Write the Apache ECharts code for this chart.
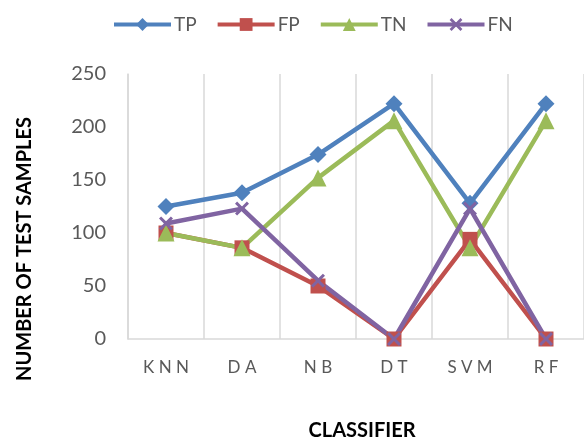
<!DOCTYPE html>
<html>
<head>
<meta charset="utf-8">
<script src="https://cdn.jsdelivr.net/npm/echarts@6/dist/echarts.min.js"></script>
<style>html,body{margin:0;padding:0;background:#fff}#c{width:584px;height:439px}</style>
</head>
<body>
<div id="c"></div>
<script>
var categories = ['KNN', 'DA', 'NB', 'DT', 'SVM', 'RF'];
var tp = [125, 138, 174, 222, 128, 222];
var fp = [100, 86, 50, 0, 94, 0];
var tn = [100, 86, 152, 206, 86, 206];
var fn = [109, 123, 55, 0, 123, 0];
var yTicks = [0, 50, 100, 150, 200, 250];

var FONT = 'Lato, "Open Sans", sans-serif';
var crossPath = 'path://M0,1.5 L1.5,0 L5,3.5 L8.5,0 L10,1.5 L6.5,5 L10,8.5 L8.5,10 L5,6.5 L1.5,10 L0,8.5 L3.5,5 Z';

function mk(name, data, color, symbol, size) {
  return {
    name: name, type: 'line', data: data,
    symbol: symbol, symbolSize: size,
    lineStyle: { color: color, width: 4.5 },
    itemStyle: { color: color },
    z: 3
  };
}

var chart = echarts.init(document.getElementById('c'));
chart.setOption({
  animation: false,
  legend: {
    top: 10, left: 107,
    itemWidth: 57, itemHeight: 16, itemGap: 19,
    lineStyle: { width: 4 },
    textStyle: { color: '#595959', fontSize: 19, fontFamily: FONT, padding: [0, 0, 0, -2] },
    data: ['TP', 'FP', 'TN', 'FN']
  },
  grid: { left: 128, right: -8, top: 74, bottom: 100, containLabel: false },
  xAxis: {
    type: 'category', data: categories, boundaryGap: true,
    axisLine: { lineStyle: { color: '#d9d9d9', width: 1.5 } },
    axisTick: { show: false },
    splitLine: { show: true, lineStyle: { color: '#d9d9d9', width: 1.5 } },
    axisLabel: {
      color: '#595959', fontSize: 17, fontFamily: FONT, margin: 20,
      formatter: function (v) { return v.split('').join(' '); }
    }
  },
  yAxis: {
    type: 'value', min: yTicks[0], max: yTicks[yTicks.length - 1], interval: 50,
    axisLine: { show: true, lineStyle: { color: '#d9d9d9', width: 1.5 } },
    axisTick: { show: false },
    splitLine: { show: false },
    axisLabel: { color: '#595959', fontSize: 20, fontFamily: FONT, margin: 22 }
  },
  graphic: [
    { type: 'text', x: 25, y: 249, rotation: Math.PI / 2, silent: true,
      style: { text: 'NUMBER OF TEST SAMPLES', fill: '#000', font: 'bold 20px ' + FONT, align: 'center', verticalAlign: 'middle' } },
    { type: 'text', x: 362, y: 431, silent: true,
      style: { text: 'CLASSIFIER', fill: '#000', font: 'bold 20px ' + FONT, align: 'center', verticalAlign: 'middle' } }
  ],
  series: [
    mk('TP', tp, '#4F81BD', 'diamond', 17),
    mk('FP', fp, '#C0504D', 'rect', 15),
    mk('TN', tn, '#9BBB59', 'triangle', 17),
    mk('FN', fn, '#8064A2', crossPath, 14)
  ]
});
</script>
</body>
</html>
